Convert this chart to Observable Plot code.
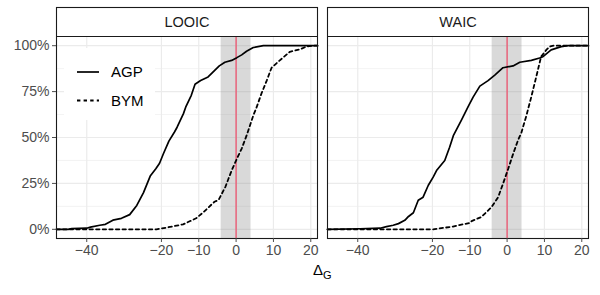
<!DOCTYPE html>
<html>
<head>
<meta charset="utf-8">
<script src="https://cdn.jsdelivr.net/npm/d3@7"></script>
<script src="https://cdn.jsdelivr.net/npm/@observablehq/plot@0.6"></script>
<style>
  html, body { margin: 0; padding: 0; background: #fff; }
  #wrap { position: relative; width: 600px; height: 295px; font-family: "Liberation Sans", Arial, Helvetica, sans-serif; }
  #legend { position: absolute; left: 64px; top: 48px; width: 91px; height: 72px; background: #fff; }
  #xlabel { position: absolute; left: 313px; top: 261px; font-size: 15px; color: #000; white-space: nowrap; }
  #xlabel sub { font-size: 11px; vertical-align: -4px; }
</style>
</head>
<body>
<div id="wrap">
  <div id="chart"></div>
  <div id="legend"></div>
  <div id="xlabel">Δ<sub>G</sub></div>
</div>
<script>
// ---- data ----
const panels = ["LOOIC", "WAIC"];
const seriesNames = ["AGP", "BYM"];
const xTicks = [-40, -20, -10, 0, 10, 20];
const yTicks = [0, 0.25, 0.5, 0.75, 1];
const yMinor = [0.125, 0.375, 0.625, 0.875];
const xDomain = [-48.1, 21.8];
const yLo = -0.05, yHi = 1.05, yStripTop = 1.208;
const bandLow = -4, bandHigh = 4, refValue = 0;

const looicAgpX = [-48.1, -45, -44, -40, -39, -36.5, -35, -33, -30.7, -28.5, -26.6, -24.8, -23, -21.5, -20.5, -19.5, -18, -16.5, -15.8, -14.1, -13.5, -12, -11, -9.5, -7.5, -6, -4.5, -3, -1.2, 0.2, 1.5, 2.8, 4.6, 7.3, 21.8];
const looicAgpY = [0, 0, 0.004, 0.006, 0.012, 0.022, 0.027, 0.05, 0.06, 0.08, 0.13, 0.20, 0.29, 0.33, 0.36, 0.41, 0.48, 0.53, 0.556, 0.63, 0.665, 0.73, 0.79, 0.81, 0.83, 0.86, 0.89, 0.91, 0.92, 0.935, 0.95, 0.97, 0.99, 1, 1];

const looicBymX = [-48.1, -21.3, -18.7, -14.2, -12.3, -10.7, -8.7, -5.8, -4.7, -2.9, -1.2, 0.2, 1.5, 2.8, 4.6, 5.5, 6.8, 8.2, 9.5, 11.7, 14.4, 17.1, 18.8, 20.6, 21.8];
const looicBymY = [0, 0, 0.009, 0.027, 0.045, 0.06, 0.094, 0.15, 0.16, 0.23, 0.32, 0.384, 0.44, 0.51, 0.62, 0.665, 0.74, 0.81, 0.88, 0.92, 0.967, 0.98, 0.995, 1, 1];

const waicAgpX = [-48.1, -39.4, -34, -32.3, -30.5, -29.1, -27.4, -26.4, -25.1, -23.8, -22.5, -21.1, -19.8, -18.9, -16.7, -15.4, -14.4, -12.2, -10.4, -9.1, -7.3, -5.1, -3.3, -1.1, 1.6, 3.4, 6.5, 8.7, 9.6, 11.8, 14.5, 16.3, 21.8];
const waicAgpY = [0, 0.003, 0.006, 0.015, 0.022, 0.031, 0.049, 0.07, 0.09, 0.158, 0.175, 0.24, 0.284, 0.32, 0.375, 0.447, 0.51, 0.596, 0.67, 0.72, 0.78, 0.81, 0.84, 0.88, 0.89, 0.91, 0.92, 0.933, 0.94, 0.977, 0.995, 1, 1];

const waicBymX = [-48.1, -19.8, -14.5, -13.1, -10, -9.5, -6.9, -4.2, -2.4, -1.1, 0.3, 1.6, 2.9, 3.8, 5.1, 6.5, 7.8, 9.1, 10.5, 11.4, 12.5, 21.8];
const waicBymY = [0, 0, 0.015, 0.022, 0.034, 0.045, 0.067, 0.12, 0.175, 0.248, 0.33, 0.41, 0.484, 0.525, 0.614, 0.723, 0.83, 0.94, 0.977, 0.995, 1, 1];

// ---- build table ----
const rows = [];
function add(panel, series, xs, ys) { xs.forEach((x, i) => rows.push({panel, series, x, y: ys[i]})); }
add("LOOIC", "AGP", looicAgpX, looicAgpY);
add("LOOIC", "BYM", looicBymX, looicBymY);
add("WAIC", "AGP", waicAgpX, waicAgpY);
add("WAIC", "BYM", waicBymX, waicBymY);
const panelData = panels.map(p => ({panel: p}));
const fmtX = d => d < 0 ? "\u2212" + (-d) : String(d);

const chart = Plot.plot({
  width: 600,
  height: 295,
  marginLeft: 56,
  marginRight: 11,
  marginTop: 7,
  marginBottom: 57,
  style: {fontFamily: '"Liberation Sans", Arial, Helvetica, sans-serif', background: "#fff"},
  fx: {domain: panels, paddingInner: 0.0368, paddingOuter: 0, axis: null, label: null},
  x: {domain: xDomain, label: null},
  y: {domain: [yLo, yStripTop], label: null},
  marks: [
    // grid
    Plot.ruleY(yMinor, {y: d => d, stroke: "#ebebeb", strokeWidth: 0.6}),
    Plot.ruleY(yTicks, {y: d => d, stroke: "#ebebeb", strokeWidth: 1.2}),
    Plot.ruleX(xTicks, {x: d => d, y1: yLo, y2: yHi, stroke: "#ebebeb", strokeWidth: 1.2}),
    // shaded band and reference line
    Plot.rect([{lo: bandLow, hi: bandHigh}], {x1: "lo", x2: "hi", y1: yLo, y2: yHi, fill: "#808080", fillOpacity: 0.3}),
    Plot.ruleX([refValue], {x: d => d, y1: yLo, y2: yHi, stroke: "#ee5470", strokeWidth: 1.3}),
    // ECDF lines
    Plot.line(rows.filter(d => d.series === "BYM"), {x: "x", y: "y", fx: "panel", stroke: "#000", strokeWidth: 1.8, strokeDasharray: "3.4,3.2", strokeLinejoin: "miter"}),
    Plot.line(rows.filter(d => d.series === "AGP"), {x: "x", y: "y", fx: "panel", stroke: "#000", strokeWidth: 1.7}),
    // panel border + strip
    Plot.ruleY([yHi], {y: d => d, stroke: "#1a1a1a", strokeWidth: 1.1}),
    Plot.frame({stroke: "#1a1a1a", strokeWidth: 1.1}),
    Plot.text(panelData, {fx: "panel", text: "panel", frameAnchor: "top", dy: 14.5, lineAnchor: "middle", fontSize: 14.5, fill: "#1a1a1a"}),
    // axes
    Plot.axisX(xTicks, {tickFormat: fmtX, tickSize: 4, tickPadding: 3, fontSize: 14, color: "#4d4d4d", label: null}),
    Plot.axisY(yTicks, {tickFormat: d3.format(".0%"), tickSize: 4, tickPadding: 3, fontSize: 14, color: "#4d4d4d", label: null})
  ]
});
document.getElementById("chart").appendChild(chart);

// legend (inside left panel, top-left)
const leg = d3.select("#legend").append("svg").attr("width", 91).attr("height", 72);
seriesNames.forEach((s, i) => {
  const yy = 24 + i * 28.5;
  leg.append("line").attr("x1", 13).attr("x2", 35).attr("y1", yy).attr("y2", yy)
    .attr("stroke", "#000").attr("stroke-width", s === "BYM" ? 1.8 : 1.7)
    .attr("stroke-dasharray", s === "BYM" ? "3.4,3.2" : null);
  leg.append("text").attr("x", 47).attr("y", yy).attr("dy", "0.36em")
    .attr("font-size", 15).attr("fill", "#000")
    .attr("font-family", '"Liberation Sans", Arial, Helvetica, sans-serif')
    .text(s);
});
</script>
</body>
</html>
